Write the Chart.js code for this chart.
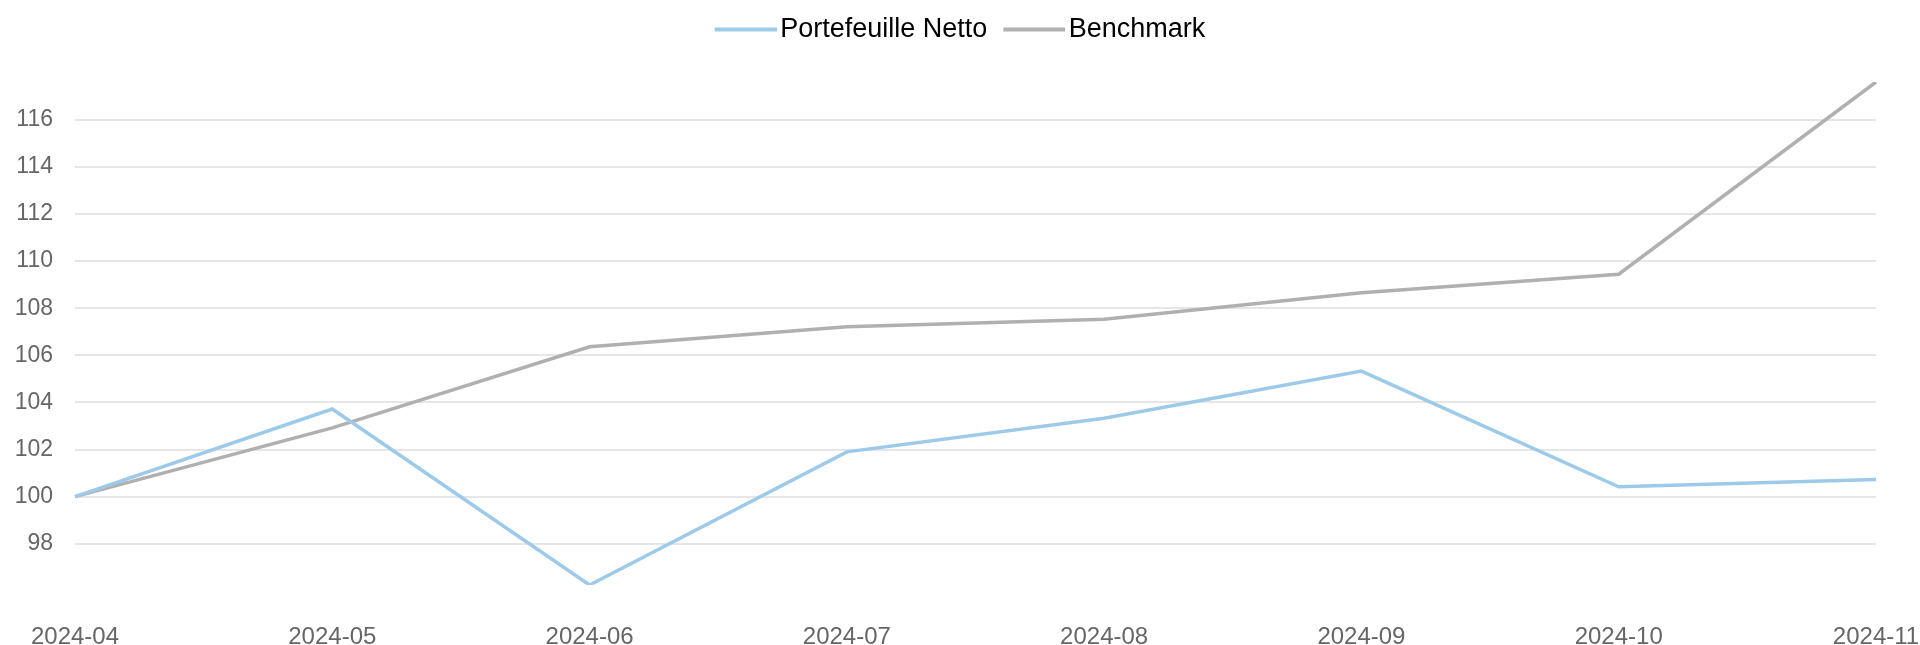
<!DOCTYPE html>
<html>
<head>
<meta charset="utf-8">
<script src="https://cdn.jsdelivr.net/npm/chart.js@4.4.1/dist/chart.umd.min.js"></script>
<style>
  html, body { margin: 0; padding: 0; background: #fff; overflow: hidden; }
  #wrap { width: 1920px; height: 645px; }
</style>
</head>
<body>
<div id="wrap"><canvas id="chart"></canvas></div>
<script>
// data
const months = ['2024-04', '2024-05', '2024-06', '2024-07', '2024-08', '2024-09', '2024-10', '2024-11'];
const portefeuille = [100, 103.72, 96.25, 101.9, 103.33, 105.33, 100.42, 100.73];
const benchmark = [100, 102.92, 106.36, 107.21, 107.53, 108.65, 109.44, 117.6];
const yTicks = [98, 100, 102, 104, 106, 108, 110, 112, 114, 116];

const allVals = portefeuille.concat(benchmark);
const FONT = '"Liberation Sans", Arial, sans-serif';
const BLUE = '#9dcae8', GREY = '#b0b0b0';

// legend sample: a 62px line that sits close to its text
function legendLine(color) {
  const c = document.createElement('canvas');
  c.width = 72; c.height = 8;
  const g = c.getContext('2d');
  g.fillStyle = color;
  g.fillRect(10, 2, 62, 4);
  return c;
}

// fixed legend height, so the plot starts where it does in the reference
const legendBox = {
  id: 'legendBox',
  beforeInit(chart) {
    const fit = chart.legend.fit;
    chart.legend.fit = function () {
      fit.bind(chart.legend)();
      this.height = 82;
    };
  }
};

new Chart(document.getElementById('chart').getContext('2d'), {
  type: 'line',
  data: {
    labels: months,
    datasets: [
      { label: 'Portefeuille Netto', data: portefeuille, borderColor: BLUE, backgroundColor: BLUE, borderWidth: 3.5,
        pointRadius: 0, pointStyle: legendLine(BLUE), tension: 0 },
      { label: 'Benchmark', data: benchmark, borderColor: GREY, backgroundColor: GREY, borderWidth: 3.5,
        pointRadius: 0, pointStyle: legendLine(GREY), tension: 0 }
    ]
  },
  options: {
    responsive: true,
    maintainAspectRatio: false,
    animation: false,
    layout: { padding: 0 },
    plugins: {
      legend: {
        position: 'top',
        labels: {
          usePointStyle: true,
          pointStyleWidth: 52,
          padding: 16,
          color: '#000',
          font: { family: FONT, size: 27 }
        }
      },
      tooltip: { enabled: false }
    },
    scales: {
      x: {
        offset: false,
        grid: { display: false, drawTicks: false },
        border: { display: false },
        ticks: { color: '#666', padding: 38, maxRotation: 0, autoSkip: false, font: { family: FONT, size: 24 } },
        afterFit: s => { s.height = 60; s.paddingLeft = 0; s.paddingRight = 44; }
      },
      y: {
        min: Math.min(...allVals),
        max: Math.max(...allVals),
        afterBuildTicks: s => { s.ticks = yTicks.map(v => ({ value: v })); },
        grid: { color: '#e6e6e6', lineWidth: 2, drawTicks: false },
        border: { display: false },
        ticks: { color: '#666', padding: 22, font: { family: FONT, size: 23 } },
        afterFit: s => { s.width = 75; s.paddingTop = 0; s.paddingBottom = 0; }
      }
    }
  },
  plugins: [legendBox]
});
</script>
</body>
</html>
